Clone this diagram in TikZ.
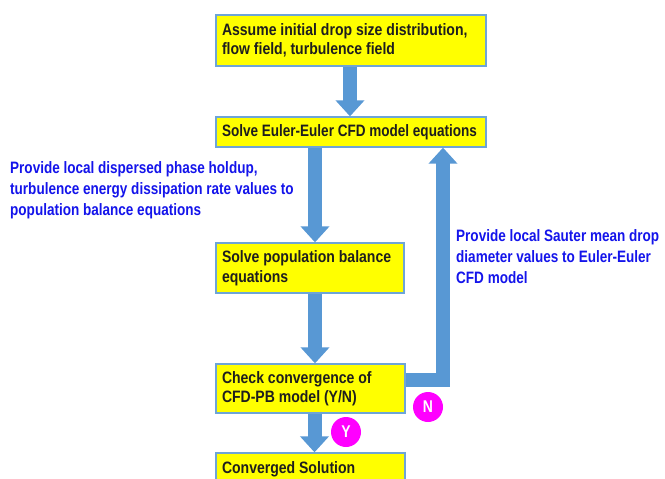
\documentclass[tikz,border=0pt]{standalone}
\usepackage{fontspec}
\setmainfont{Liberation Sans}[FakeStretch=0.82]
\newfontfamily\boxfont{Liberation Sans}[FakeStretch=0.85]
\usetikzlibrary{arrows.meta,calc}
\definecolor{boxyellow}{RGB}{255,255,0}
\definecolor{boxline}{RGB}{110,165,215}
\definecolor{arrowblue}{RGB}{88,152,212}
\definecolor{labelblue}{RGB}{20,20,235}
\definecolor{boxtext}{RGB}{30,30,30}
\definecolor{dotmag}{RGB}{255,0,255}
\tikzset{
  flowbox/.style={draw=boxline, line width=1.3pt, fill=boxyellow, text=boxtext,
    font=\boxfont\fontsize{16.5}{19.5}\selectfont\bfseries, align=flush left, inner xsep=6pt, inner ysep=0pt,
    anchor=center},
  fatarrow/.style={draw=arrowblue, line width=14pt,
    -{Triangle[width=28pt,length=16pt]}},
  fatline/.style={draw=arrowblue, line width=14pt, line join=miter},
  note/.style={text=labelblue, font=\fontsize{16.5}{21.3}\selectfont\bfseries, align=left,
    anchor=north west, inner sep=0pt},
  yn/.style={circle, fill=dotmag, text=white, minimum size=30pt, inner sep=0pt,
    font=\fontsize{17}{17}\selectfont\bfseries}
}
\begin{document}
\begin{tikzpicture}[x=1pt,y=-1pt]
\clip (0,0) rectangle (665,479);
\fill[white] (0,0) rectangle (665,479);
\node[flowbox, minimum width=270pt, minimum height=51pt, text width=258pt] (b1) at (351,40.5)
  {Assume initial drop size distribution,\\flow field, turbulence field};
\node[flowbox, minimum width=270pt, minimum height=30pt, text width=258pt,
  font=\rmfamily\fontsize{16.5}{19.5}\selectfont\bfseries] (b2) at (351,132)
  {\mbox{Solve Euler-Euler CFD model equations}};
\node[flowbox, minimum width=188pt, minimum height=50pt, text width=176pt] (b3) at (310,268)
  {Solve population balance\\equations};
\node[flowbox, minimum width=189pt, minimum height=49pt, text width=177pt] (b4) at (310.5,388.5)
  {Check convergence of\\CFD-PB model (Y/N)};
\node[flowbox, minimum width=189pt, minimum height=32pt, text width=177pt] (b5) at (310.5,469)
  {Converged Solution};
% arrows
\draw[fatarrow] ([xshift=-1pt]b1.south) -- ([xshift=-1pt]b2.north);
\draw[fatarrow] ([xshift=5pt]b3.north |- b2.south) -- ([xshift=5pt]b3.north);
\draw[fatarrow] ([xshift=5pt]b3.south) -- ([xshift=5pt]b3.south |- b4.north);
\draw[fatarrow] ([xshift=4pt]b4.south) -- ([xshift=4pt]b5.north);
\coordinate (corner) at (443,380);
\draw[fatline] (b4.east |- corner) -- (corner) -- ([yshift=-15pt]corner |- b2.south);
\draw[arrowblue, line width=14pt, -{Triangle[width=28pt,length=16pt]}]
  ([yshift=-17pt]corner |- b2.south) -- (corner |- b2.south);
% labels
\node[note] (l1) at (10,161) {Provide local dispersed phase holdup,\\turbulence energy dissipation rate values to\\population balance equations};
\node[note] (l2) at (456,229) {Provide local Sauter mean drop\\diameter values to Euler-Euler\\CFD model};
\node[yn] (n) at (428,407) {N};
\node[yn] (y) at (346,432) {Y};
\end{tikzpicture}
\end{document}
